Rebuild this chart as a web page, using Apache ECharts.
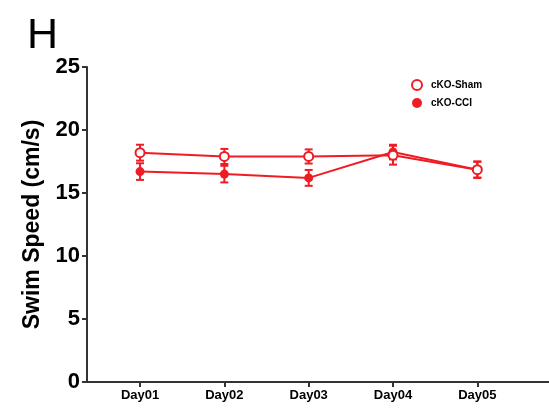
<!DOCTYPE html>
<html><head><meta charset="utf-8">
<script src="https://cdn.jsdelivr.net/npm/echarts@6/dist/echarts.min.js"></script>
<style>html,body{margin:0;padding:0;background:#fff}#c{width:549px;height:408px}</style>
</head><body><div id="c"></div>
<script>
const categories = ['Day01', 'Day02', 'Day03', 'Day04', 'Day05'];
const shamMean = [18.2, 17.9, 17.9, 18.0, 16.85];
const shamSem = [0.63, 0.6, 0.56, 0.75, 0.66];
const cciMean = [16.7, 16.5, 16.2, 18.25, 16.85];
const cciSem = [0.66, 0.66, 0.63, 0.58, 0.62];
const yTicks = [0, 5, 10, 15, 20, 25];

const RED = '#ee1c24';
const FONT = 'Liberation Sans, Arial, sans-serif';

function pts(mean) { return mean.map((v, i) => [i + 1, v]); }
function errs(mean, sem) { return mean.map((v, i) => [i + 1, v - sem[i], v + sem[i]]); }

function errRender(params, api) {
  const x = api.value(0);
  const lo = api.coord([x, api.value(1)]);
  const hi = api.coord([x, api.value(2)]);
  const w = 4;
  const st = { stroke: RED, lineWidth: 2 };
  return { type: 'group', children: [
    { type: 'line', shape: { x1: lo[0], y1: lo[1], x2: hi[0], y2: hi[1] }, style: st },
    { type: 'line', shape: { x1: lo[0] - w, y1: lo[1], x2: lo[0] + w, y2: lo[1] }, style: st },
    { type: 'line', shape: { x1: hi[0] - w, y1: hi[1], x2: hi[0] + w, y2: hi[1] }, style: st }
  ]};
}

const chart = echarts.init(document.getElementById('c'));
chart.setOption({
  animation: false,
  title: { text: 'H', left: 22, top: 10, textStyle: { fontFamily: FONT, fontSize: 43, fontWeight: 'normal', color: '#000' } },
  legend: {
    orient: 'vertical', left: 406, top: 74, itemGap: 7, itemWidth: 10, itemHeight: 10,
    textStyle: { fontFamily: FONT, fontSize: 10, fontWeight: 'bold', color: '#000', padding: [0, 0, 0, 4] },
    data: [
      { name: 'cKO-Sham', icon: 'circle', itemStyle: { color: '#fff', borderColor: RED, borderWidth: 2 } },
      { name: 'cKO-CCI', icon: 'circle', itemStyle: { color: RED, borderColor: RED, borderWidth: 0 } }
    ]
  },
  grid: { left: 87, right: 0, top: 67, bottom: 26, containLabel: false },
  xAxis: {
    type: 'value', min: 0.371, max: 5.85,
    splitLine: { show: false },
    axisLine: { lineStyle: { color: '#333', width: 2 } },
    axisTick: { customValues: [1, 2, 3, 4, 5], length: 5, lineStyle: { color: '#333', width: 2 } },
    axisLabel: { customValues: [1, 2, 3, 4, 5], formatter: v => categories[Math.round(v) - 1], margin: 7,
      fontFamily: FONT, fontSize: 13, fontWeight: 'bold', color: '#000' }
  },
  yAxis: {
    type: 'value', min: 0, max: 25, interval: 5,
    name: 'Swim Speed (cm/s)', nameLocation: 'middle', nameGap: 42,
    nameTextStyle: { fontFamily: FONT, fontSize: 23, fontWeight: 'bold', color: '#000' },
    splitLine: { show: false },
    axisLine: { show: true, lineStyle: { color: '#333', width: 2 } },
    axisTick: { show: true, length: 5, lineStyle: { color: '#333', width: 2 } },
    axisLabel: { margin: 7, fontFamily: FONT, fontSize: 22, fontWeight: 'bold', color: '#000',
      formatter: v => yTicks.includes(v) ? String(v) : '' }
  },
  series: [
    { type: 'custom', name: 'shamErr', renderItem: errRender, data: errs(shamMean, shamSem), z: 2, silent: true },
    { type: 'custom', name: 'cciErr', renderItem: errRender, data: errs(cciMean, cciSem), z: 2, silent: true },
    { type: 'line', name: 'cKO-CCI', data: pts(cciMean), symbol: 'circle', symbolSize: 9, z: 3,
      lineStyle: { color: RED, width: 2 }, itemStyle: { color: RED, borderWidth: 0 } },
    { type: 'line', name: 'cKO-Sham', data: pts(shamMean), symbol: 'circle', symbolSize: 9, z: 4,
      lineStyle: { color: RED, width: 2 }, itemStyle: { color: '#fff', borderColor: RED, borderWidth: 2 } }
  ]
});
</script></body></html>
